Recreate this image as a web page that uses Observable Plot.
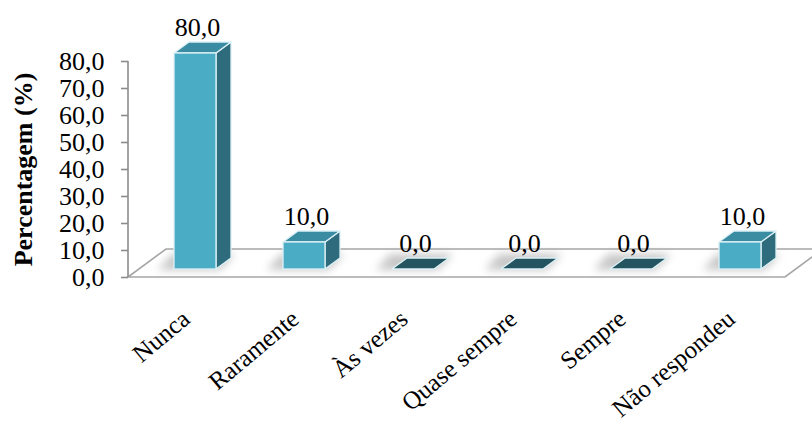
<!DOCTYPE html>
<html>
<head>
<meta charset="utf-8">
<script src="https://cdn.jsdelivr.net/npm/d3@7"></script>
<script src="https://cdn.jsdelivr.net/npm/@observablehq/plot@0.6"></script>
<style>
  html, body { margin: 0; padding: 0; background: #fff; }
  #chart { width: 812px; height: 430px; }
</style>
</head>
<body>
<div id="chart"></div>
<script>
// ---- data ----
const categories = ["Nunca", "Raramente", "Às vezes", "Quase sempre", "Sempre", "Não respondeu"];
const percentages = [80.0, 10.0, 0.0, 0.0, 0.0, 10.0];
const yTicks = [0, 10, 20, 30, 40, 50, 60, 70, 80];
const yTitle = "Percentagem (%)";

const fmt = d => d.toFixed(1).replace(".", ",");
const rows = categories.map((c, i) => ({cat: c, value: percentages[i]}));

const FONT = "'Liberation Serif', 'Times New Roman', serif";
const FRONT = "#4BACC6", TOP = "#3A8CA2", SIDE = "#2E6C7D", ZERO = "#23545F", EDGE = "#DDF1F6";
const BAR_DX = 15, BAR_DY = 11, FLOOR_DX = 38, FLOOR_DY = 28, FLOOR_DROP = 8;

const pts = p => p.map(q => q.join(",")).join(" ");

// floor, axis line and soft shadows
function floorMark(index, scales, values, dimensions) {
  const {x, y} = scales;
  const g = d3.create("svg:g");
  const defs = g.append("defs");
  defs.append("filter").attr("id", "blur").attr("x", "-50%").attr("y", "-50%").attr("width", "200%").attr("height", "200%")
    .append("feGaussianBlur").attr("stdDeviation", 4);
  const y0 = y(0) + FLOOR_DROP;
  const fl = dimensions.marginLeft;
  const fr = x.range()[1] + 24;
  g.append("polygon")
    .attr("points", pts([[fl, y0], [fr, y0], [fr + FLOOR_DX, y0 - FLOOR_DY], [fl + FLOOR_DX, y0 - FLOOR_DY]]))
    .attr("fill", "#fff").attr("stroke", "#A6A6A6").attr("stroke-width", 1.6);
  // y axis line
  g.append("line").attr("x1", fl).attr("x2", fl)
    .attr("y1", y(d3.max(yTicks)) + FLOOR_DROP).attr("y2", y0)
    .attr("stroke", "#8C8C8C").attr("stroke-width", 1.6);
  // shadows
  const bw = x.bandwidth();
  rows.forEach(r => {
    const xl = x(r.cat), b = y(0);
    g.append("polygon")
      .attr("points", pts([[xl - 16, b + 1], [xl + bw + 4, b + 1], [xl + bw + BAR_DX + 4, b - BAR_DY - 4], [xl - 2, b - BAR_DY - 4]]))
      .attr("fill", "#9a9a9a").attr("opacity", 0.55).attr("filter", "url(#blur)");
  });
  return g.node();
}

// top and side faces of the 3D bars
function facesMark(index, scales) {
  const {x, y} = scales;
  const g = d3.create("svg:g").attr("stroke", EDGE).attr("stroke-width", 1.3).attr("stroke-linejoin", "round");
  const bw = x.bandwidth();
  rows.forEach(r => {
    const xl = x(r.cat), xr = xl + bw, top = y(r.value), base = y(0);
    if (r.value > 0) {
      g.append("polygon").attr("fill", SIDE)
        .attr("points", pts([[xr, top], [xr + BAR_DX, top - BAR_DY], [xr + BAR_DX, base - BAR_DY], [xr, base]]));
    }
    g.append("polygon").attr("fill", r.value > 0 ? TOP : ZERO)
      .attr("points", pts([[xl, top], [xr, top], [xr + BAR_DX, top - BAR_DY], [xl + BAR_DX, top - BAR_DY]]));
  });
  return g.node();
}

const chart = Plot.plot({
  width: 812,
  height: 430,
  marginLeft: 128,
  marginRight: 27,
  marginTop: 16,
  marginBottom: 108,
  style: {fontFamily: FONT, fontSize: "26px", color: "#000", background: "#fff", overflow: "visible"},
  x: {type: "band", domain: categories, range: [173, 761], paddingInner: 0.615, paddingOuter: 0, align: 0.5, axis: null},
  y: {domain: [0, 80], range: [269, 53], axis: null},
  marks: [
    floorMark,
    facesMark,
    Plot.barY(rows, {x: "cat", y: "value", fill: FRONT, stroke: EDGE, strokeWidth: 1.3, inset: 0}),
    Plot.text(rows, {x: "cat", y: "value", text: d => fmt(d.value), dy: -26, dx: 2, fontSize: 26, fill: "#000"}),
    Plot.axisY(yTicks, {
      tickSize: 7, tickPadding: 17, dy: 8, tickFormat: fmt, fontSize: 26,
      stroke: "#8C8C8C", fill: "#000", label: null, strokeWidth: 1.6
    }),
    Plot.text(categories, {
      x: d => d, frameAnchor: "bottom", text: d => d, textAnchor: "end", rotate: -40,
      dx: -4, dy: -1, fontSize: 25, fill: "#000"
    }),
    Plot.text([yTitle], {
      frameAnchor: "left", text: d => d, rotate: -90, textAnchor: "middle", dx: -105,
      fontSize: 26, fontWeight: "bold", fill: "#000"
    })
  ]
});

document.getElementById("chart").appendChild(chart);
</script>
</body>
</html>
